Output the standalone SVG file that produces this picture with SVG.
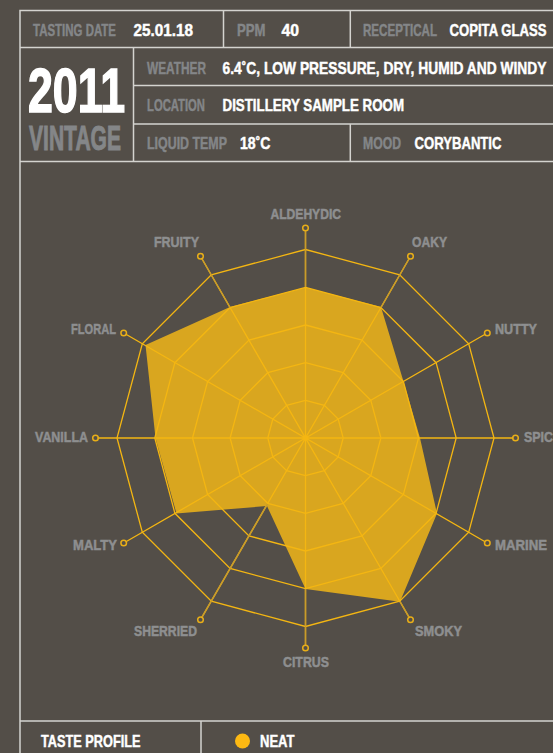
<svg xmlns="http://www.w3.org/2000/svg" width="553" height="753" viewBox="0 0 553 753">
<style>
text{font-family:"Liberation Sans Narrow","Liberation Sans",Arial,sans-serif;font-weight:700}
.k{fill:#848688;stroke:#848688;font-size:16.5px;stroke-width:.45}
.v{fill:#fff;stroke:#fff;font-size:16.5px;stroke-width:.45}
.l{fill:#8e8f90;stroke:#8e8f90;font-size:15px;stroke-width:.5}
.f{stroke:#d4d3cf;stroke-width:1.5;fill:none}
.g{stroke:#f4b612;stroke-width:1.3;fill:none}
.s{stroke:#c99c2a;stroke-width:1.5;fill:none}
.t{stroke:#e8ae18;stroke-width:1.5;fill:none}
</style>
<rect width="553" height="753" fill="#534e48"/>
<g id="frame">
<path class="f" d="M20 753V10.5H553M20 47.5H553M133.5 85.5H553M133.5 124H553M20 161.5H553M20 721H553M223.5 10.5V47.5M350.3 10.5V47.5M350.3 124V161.5M133.5 47.5V161.5M201 721V753"/>
</g>
<g id="header">
<text class="k" x="33" y="36" textLength="83" lengthAdjust="spacingAndGlyphs">TASTING DATE</text>
<text class="v" x="133.5" y="36" textLength="59.5" lengthAdjust="spacingAndGlyphs">25.01.18</text>
<text class="k" x="237" y="36" textLength="28.5" lengthAdjust="spacingAndGlyphs">PPM</text>
<text class="v" x="281.5" y="36" textLength="17.5" lengthAdjust="spacingAndGlyphs">40</text>
<text class="k" x="363" y="36" textLength="74" lengthAdjust="spacingAndGlyphs">RECEPTICAL</text>
<text class="v" x="449.5" y="36" textLength="97" lengthAdjust="spacingAndGlyphs">COPITA GLASS</text>
<text class="v" x="28" y="112" style="font-size:63px;stroke-width:1.6" textLength="97" lengthAdjust="spacingAndGlyphs">2011</text>
<text class="k" x="29" y="150" style="font-size:35px;stroke-width:1" textLength="92" lengthAdjust="spacingAndGlyphs">VINTAGE</text>
<text class="k" x="147" y="74" textLength="59" lengthAdjust="spacingAndGlyphs">WEATHER</text>
<text class="v" x="222.5" y="74" textLength="324" lengthAdjust="spacingAndGlyphs">6.4˚C, LOW PRESSURE, DRY, HUMID AND WINDY</text>
<text class="k" x="147" y="111" textLength="58" lengthAdjust="spacingAndGlyphs">LOCATION</text>
<text class="v" x="222.5" y="111" textLength="181.5" lengthAdjust="spacingAndGlyphs">DISTILLERY SAMPLE ROOM</text>
<text class="k" x="147" y="149" textLength="80" lengthAdjust="spacingAndGlyphs">LIQUID TEMP</text>
<text class="v" x="240" y="149" textLength="30.5" lengthAdjust="spacingAndGlyphs">18˚C</text>
<text class="k" x="363" y="149" textLength="38" lengthAdjust="spacingAndGlyphs">MOOD</text>
<text class="v" x="414.5" y="149" textLength="87" lengthAdjust="spacingAndGlyphs">CORYBANTIC</text>
</g>
<g id="radar-data">
<polygon fill="#d9a61f" points="305.5,287.5 381,307 403.5,381.5 420,438 437,513.5 400,601.7 305.5,589 267,506 176.5,513.5 155.5,438 145.5,345 230,307"/>
</g>
<g id="connectors">
<path class="g" d="M305.5 230.5V645.5M97.5 438H513.5M409.5 258L201.5 618M201.5 258L409.5 618M125.5 334L485.5 542M485.5 334L125.5 542"/>
<polygon class="g" points="305.5,400.3 324.4,405.3 338.2,419.1 343.2,438 338.2,456.9 324.4,470.7 305.5,475.7 286.6,470.7 272.8,456.9 267.8,438 272.8,419.1 286.6,405.3"/>
<polygon class="g" points="305.5,362.6 343.2,372.7 370.8,400.3 380.9,438 370.8,475.7 343.2,503.3 305.5,513.4 267.8,503.3 240.2,475.7 230.1,438 240.2,400.3 267.8,372.7"/>
<polygon class="g" points="305.5,325 362,340.1 403.4,381.5 418.5,438 403.4,494.5 362,535.9 305.5,551 249,535.9 207.6,494.5 192.5,438 207.6,381.5 249,340.1"/>
<polygon class="g" points="305.5,287.3 380.9,307.5 436.1,362.7 456.2,438 436.1,513.3 380.9,568.5 305.5,588.7 230.1,568.5 174.9,513.3 154.8,438 174.9,362.7 230.1,307.5"/>
<polygon class="g" points="305.5,249.5 399.7,274.8 468.7,343.8 494,438 468.7,532.2 399.7,601.2 305.5,626.5 211.3,601.2 142.3,532.2 117,438 142.3,343.8 211.3,274.8"/>
<path class="s" d="M305.5 230.5V287M305.5 589V645.5M409.5 258L381 307.5M201.5 258L230 307.5M409.5 618L400 601.7M201.5 618L267.5 504"/>
<g class="t">
<circle cx="305.5" cy="228" r="2.8"/><circle cx="410.5" cy="256.2" r="2.8"/><circle cx="487.3" cy="333" r="2.8"/><circle cx="515.5" cy="438" r="2.8"/><circle cx="487.3" cy="543" r="2.8"/><circle cx="410.5" cy="619.8" r="2.8"/><circle cx="305.5" cy="648" r="2.8"/><circle cx="200.5" cy="619.8" r="2.8"/><circle cx="123.7" cy="543" r="2.8"/><circle cx="95.5" cy="438" r="2.8"/><circle cx="123.7" cy="333" r="2.8"/><circle cx="200.5" cy="256.2" r="2.8"/>
</g>
</g>
<g id="labels">
<text class="l" x="270.5" y="219" textLength="70.5" lengthAdjust="spacingAndGlyphs">ALDEHYDIC</text>
<text class="l" x="412" y="247" textLength="35" lengthAdjust="spacingAndGlyphs">OAKY</text>
<text class="l" x="495" y="334" textLength="42" lengthAdjust="spacingAndGlyphs">NUTTY</text>
<text class="l" x="524" y="442" textLength="29" lengthAdjust="spacingAndGlyphs">SPIC</text>
<text class="l" x="495" y="550" textLength="52" lengthAdjust="spacingAndGlyphs">MARINE</text>
<text class="l" x="415" y="636" textLength="47" lengthAdjust="spacingAndGlyphs">SMOKY</text>
<text class="l" x="283" y="667" textLength="46" lengthAdjust="spacingAndGlyphs">CITRUS</text>
<text class="l" x="134" y="636" textLength="63" lengthAdjust="spacingAndGlyphs">SHERRIED</text>
<text class="l" x="73" y="550" textLength="44" lengthAdjust="spacingAndGlyphs">MALTY</text>
<text class="l" x="35" y="442" textLength="53" lengthAdjust="spacingAndGlyphs">VANILLA</text>
<text class="l" x="71" y="334" textLength="45" lengthAdjust="spacingAndGlyphs">FLORAL</text>
<text class="l" x="154" y="247" textLength="45" lengthAdjust="spacingAndGlyphs">FRUITY</text>
</g>
<g id="footer">
<text class="v" x="41" y="747" textLength="99.5" lengthAdjust="spacingAndGlyphs">TASTE PROFILE</text>
<circle cx="242.5" cy="741" r="7.5" fill="#fdb913"/>
<text class="v" x="260" y="747" textLength="34.5" lengthAdjust="spacingAndGlyphs">NEAT</text>
</g>
</svg>
